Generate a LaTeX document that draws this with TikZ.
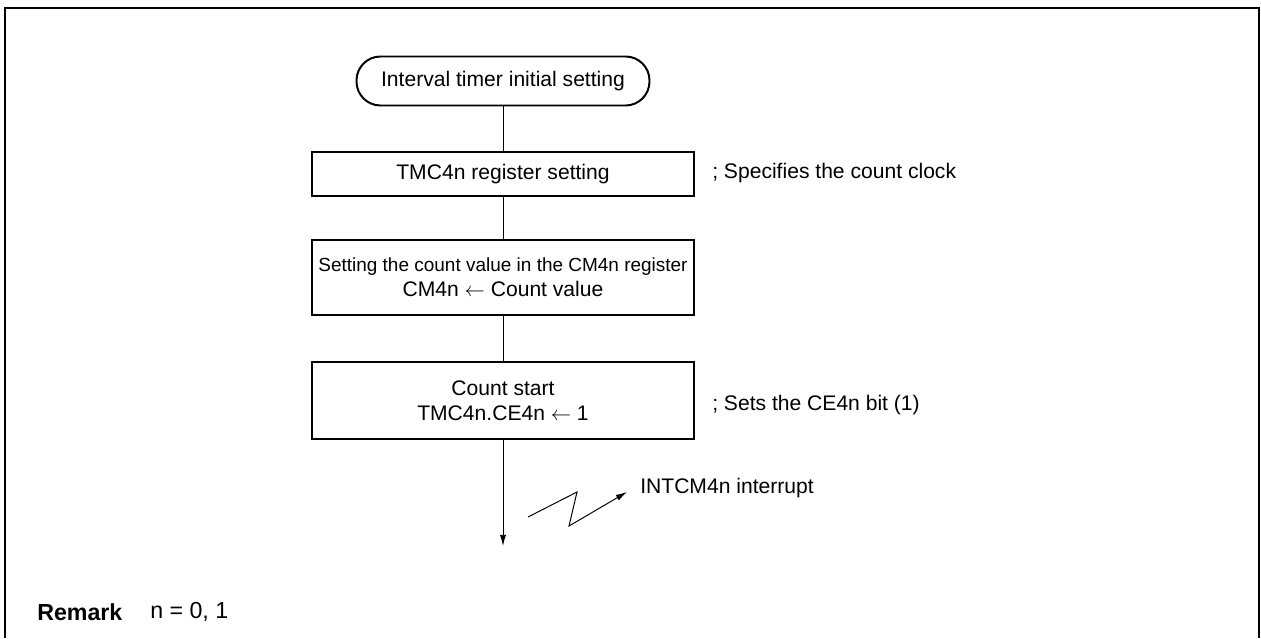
\documentclass[tikz,border=0pt]{standalone}
\usepackage{fontspec}
\setmainfont{Liberation Sans}
\usepackage{tikz}
\usetikzlibrary{positioning, arrows.meta}

\begin{document}
\begin{tikzpicture}[scale=1.0,
    font=\fontsize{15}{18}\selectfont,
    procbox/.style={draw, line width=1.4pt, minimum width=9.55cm, align=center, inner sep=0pt},
    flowline/.style={line width=0.7pt},
    note/.style={anchor=west, inner sep=0pt}]
    \useasboundingbox (0,0) rectangle (31.525,15.95);

    % Outer frame (open at the bottom)
    \draw[line width=1.4pt] (0.125,0) -- (0.125,15.75) -- (31.475,15.75) -- (31.475,0);

    % Flowchart steps
    \node[procbox, minimum height=1.225cm, minimum width=7.325cm, rounded corners=0.6cm] (start) at (12.575,13.925) {Interval timer initial setting};
    \node[procbox, minimum height=1.1cm] (tmc) at (12.575,11.6) {TMC4n register setting};
    \node[procbox, minimum height=1.875cm] (cmset) at (12.575,9.0125)
        {{\fontsize{13.5}{17}\selectfont Setting the count value in the CM4n register}\\CM4n $\leftarrow$ Count value};
    \node[procbox, minimum height=1.925cm] (cstart) at (12.575,5.9375)
        {Count start\\TMC4n.CE4n $\leftarrow$ 1};
    \coordinate (out) at (12.575,2.3);

    \draw[flowline] (start) -- (tmc);
    \draw[flowline] (tmc) -- (cmset);
    \draw[flowline] (cmset) -- (cstart);
    \draw[flowline, -{Latex[length=8pt, width=4.5pt]}] (cstart) -- (out);

    % Side comments
    \node[note] (ccom) at (17.8,11.625) {; Specifies the count clock};
    \node[note] (ecom) at (17.8,5.825) {; Sets the CE4n bit (1)};

    % Interrupt request
    \node[note] (intr) at (16.0,3.75) {INTCM4n interrupt};
    \coordinate (z0) at (13.2,3.025);
    \coordinate (z1) at (14.425,3.65);
    \coordinate (z2) at (14.225,2.8);
    \coordinate (z3) at (15.675,3.65);
    \draw[flowline, -{Latex[length=8pt, width=4.5pt]}] (z0) -- (z1) -- (z2) -- (z3);

    % Remark
    \node[note, font=\fontsize{16.5}{19}\selectfont\bfseries] (rem) at (0.925,0.65) {Remark};
    \node[note, font=\fontsize{16.5}{19}\selectfont] (remtxt) at (3.75,0.65) {n = 0, 1};
\end{tikzpicture}
\end{document}
